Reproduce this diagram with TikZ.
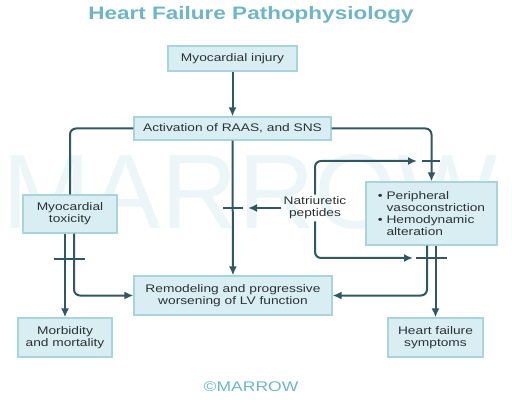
\documentclass[tikz,border=0pt]{standalone}
\usepackage{fontspec}
\setmainfont{Liberation Sans}[FakeStretch=1.25]
\newfontfamily\wmfont{Liberation Sans}
\usetikzlibrary{arrows.meta}

\definecolor{boxfill}{RGB}{217,238,243}
\definecolor{boxline}{RGB}{168,212,222}
\definecolor{flow}{RGB}{47,88,98}
\definecolor{txt}{RGB}{45,50,52}
\definecolor{headc}{RGB}{108,182,200}
\definecolor{wmark}{RGB}{236,246,249}

\begin{document}
\begin{tikzpicture}[x=1pt, y=-1pt,
    box/.style={rectangle, draw=boxline, fill=boxfill, line width=1.2pt, text=txt, align=center, inner sep=0pt, font=\fontsize{11}{12}\selectfont},
    link/.style={-{Latex[length=9pt,width=8pt]}, draw=flow, line width=2pt},
    wire/.style={draw=flow, line width=2pt},
    blocker/.style={draw=flow, line width=1.6pt}
]
\useasboundingbox (0,0) rectangle (512,409);

% Watermark
\node[text=wmark, font=\wmfont\fontsize{106}{110}\selectfont] (wm) at (250,192) {MARROW};

% Title
\node[text=headc, font=\bfseries\fontsize{18}{20}\selectfont] (title) at (251,15) {Heart Failure Pathophysiology};

% Boxes
\node[box, minimum width=129, minimum height=25] (injury) at (232.5,58.5) {Myocardial injury};
\node[box, minimum width=197, minimum height=23] (raas) at (232.5,128.5) {Activation of RAAS, and SNS};
\node[box, minimum width=94, minimum height=38] (toxic) at (70,214) {Myocardial\\toxicity};
\node[box, minimum width=131, minimum height=63, align=left] (periph) at (431.5,213.5)
    {\textbullet~Peripheral\\\phantom{\textbullet~}vasoconstriction\\\textbullet~Hemodynamic\\\phantom{\textbullet~}alteration};
\node[box, minimum width=198, minimum height=39] (remod) at (233,295.5) {Remodeling and progressive\\worsening of LV function};
\node[box, minimum width=94, minimum height=39] (morb) at (65,337.5) {Morbidity\\and mortality};
\node[box, minimum width=95, minimum height=39] (hfsym) at (435.5,337.5) {Heart failure\\symptoms};
\node[text=txt, align=center, inner sep=2pt, font=\fontsize{11}{12}\selectfont] (natri) at (315,208) {Natriuretic\\peptides};

% Free ends
\coordinate (natup) at (417,161);
\coordinate (natdown) at (413,258);
\coordinate (natleft) at (248,208);

% Connections
\draw[link] (injury) -- (raas);
\draw[link] (raas) -- (remod);
\draw[wire, rounded corners=6] (raas.west) -| (toxic.north);
\draw[link, rounded corners=6] (raas.east) -| (periph.north);
\draw[link, rounded corners=6] (natri.north) |- (natup);
\draw[link, rounded corners=6] (natri.south) |- (natdown);
\draw[link] (natri.west) -- (natleft);
\draw[link] ([xshift=-5]toxic.south) -- (morb.north);
\draw[link, rounded corners=6] ([xshift=4]toxic.south) |- (remod.west);
\draw[link] ([xshift=4]periph.south) -- (hfsym.north);
\draw[link, rounded corners=6] ([xshift=-4.5]periph.south) |- (remod.east);

% Inhibition bars
\draw[blocker] (422,161) -- (440,161);
\draw[blocker] (223,208) -- (243,208);
\draw[blocker] (416,258) -- (447,258);
\draw[blocker] (54,259) -- (85,259);

% Footer
\node[text=headc, font=\fontsize{14}{16}\selectfont] (logo) at (251,387) {©MARROW};

\end{tikzpicture}
\end{document}
